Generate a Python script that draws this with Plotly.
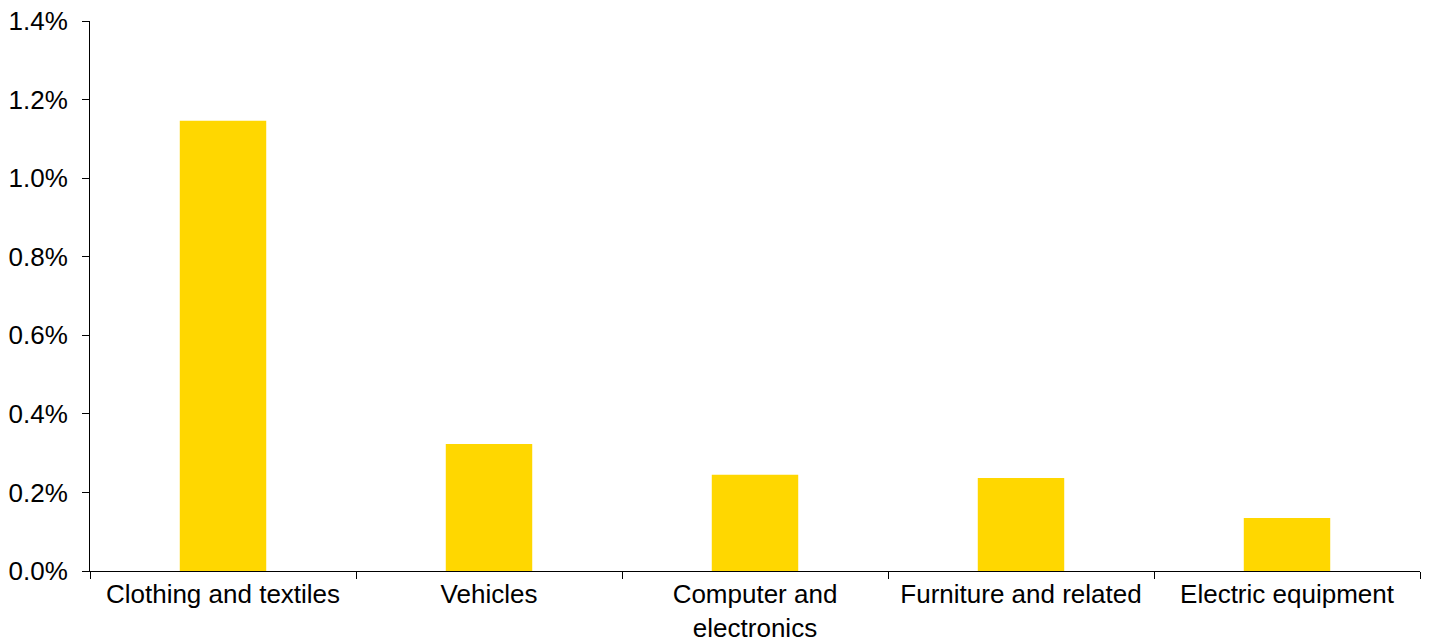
import plotly.graph_objects as go

categories = [
    "Clothing and textiles",
    "Vehicles",
    "Computer and<br>electronics",
    "Furniture and related",
    "Electric equipment",
]
values_pct = [1.146, 0.323, 0.245, 0.237, 0.135]
y_ticks = [0.0, 0.2, 0.4, 0.6, 0.8, 1.0, 1.2, 1.4]
y_tick_labels = [f"{v:.1f}%" for v in y_ticks]

FONT = "Liberation Sans, Arial, sans-serif"
FONT_SIZE = 26

fig = go.Figure(
    go.Bar(
        x=categories,
        y=values_pct,
        marker=dict(color="#FFD700", line=dict(width=0)),
        hovertemplate="%{x}: %{y:.2f}%<extra></extra>",
    )
)

fig.update_layout(
    width=1430,
    height=643,
    margin=dict(l=90, r=10, t=21, b=72),
    paper_bgcolor="white",
    plot_bgcolor="white",
    bargap=0.675,
    showlegend=False,
    font=dict(family=FONT, size=FONT_SIZE, color="black"),
)

fig.update_xaxes(
    automargin=False,
    showline=True,
    linecolor="black",
    linewidth=1,
    ticks="outside",
    ticklen=7,
    tickcolor="black",
    tickson="boundaries",
    showgrid=False,
    ticklabelstandoff=0,
    tickfont=dict(family=FONT, size=FONT_SIZE, color="black"),
)

fig.update_yaxes(
    automargin=False,
    range=[0, 1.4],
    tickvals=y_ticks,
    ticktext=y_tick_labels,
    showline=True,
    linecolor="black",
    linewidth=1,
    ticks="outside",
    ticklen=7,
    tickcolor="black",
    showgrid=False,
    zeroline=False,
    ticklabelstandoff=9,
    tickfont=dict(family=FONT, size=FONT_SIZE, color="black"),
)

fig.write_html("out.html")
